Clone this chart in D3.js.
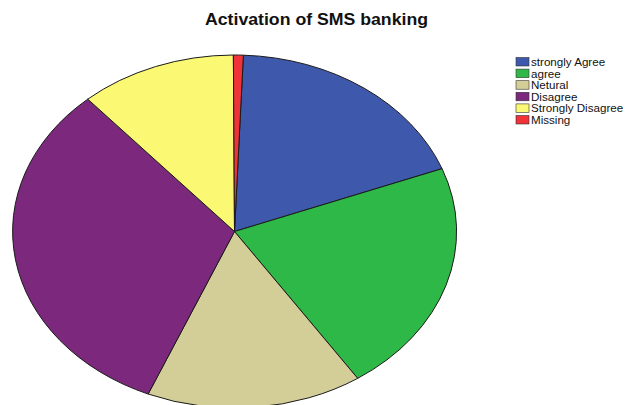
<!DOCTYPE html>
<html>
<head>
<meta charset="utf-8">
<script src="https://cdn.jsdelivr.net/npm/d3@7"></script>
<style>
  html, body { margin: 0; padding: 0; background: #fff; }
  svg { display: block; }
  text { font-family: "Liberation Sans", Arial, sans-serif; }
</style>
</head>
<body>
<script>
// Responses to "Activation of SMS banking"
const categories = ["strongly Agree", "agree", "Netural", "Disagree", "Strongly Disagree", "Missing"];
const counts = [26, 30, 22, 45, 16, 1];
const colors = ["#3e58ac", "#2eb848", "#d3ce97", "#7c287d", "#fbf873", "#ef3338"];

const width = 626, height = 405;
const cx = 234.5, cy = 231.5, rx = 222, ry = 176.5;

const svg = d3.select("body").append("svg")
  .attr("width", width).attr("height", height);

svg.append("text")
  .attr("x", 316.5).attr("y", 25)
  .attr("text-anchor", "middle")
  .attr("font-size", 16).attr("font-weight", "bold")
  .attr("textLength", 223).attr("lengthAdjust", "spacingAndGlyphs")
  .attr("fill", "#111")
  .text("Activation of SMS banking");

const startDeg = 2.3;
const pie = d3.pie().sort(null).value(d => d.v)
  .startAngle(startDeg * Math.PI / 180)
  .endAngle((startDeg + 360) * Math.PI / 180);
const arc = d3.arc().innerRadius(0).outerRadius(1);

const data = categories.map((c, i) => ({ c, v: counts[i], col: colors[i] }));

// unit-circle pie stretched into an ellipse
const g = svg.append("g")
  .attr("transform", `translate(${cx},${cy}) scale(${rx},${ry})`);

g.selectAll("path").data(pie(data)).join("path")
  .attr("d", arc)
  .attr("fill", d => d.data.col)
  .attr("stroke", "#1a1a1a")
  .attr("stroke-width", 1)
  .attr("vector-effect", "non-scaling-stroke");

// legend
const legend = svg.append("g").attr("transform", "translate(516,57.5)");
const row = legend.selectAll("g").data(data).join("g")
  .attr("transform", (d, i) => `translate(0,${i * 11.6})`);
row.append("rect")
  .attr("width", 13).attr("height", 8.5)
  .attr("fill", d => d.col)
  .attr("stroke", "#333").attr("stroke-width", 0.6);
row.append("text")
  .attr("x", 15).attr("y", 8.5)
  .attr("font-size", 11.6).attr("fill", "#111")
  .text(d => d.c);
</script>
</body>
</html>
